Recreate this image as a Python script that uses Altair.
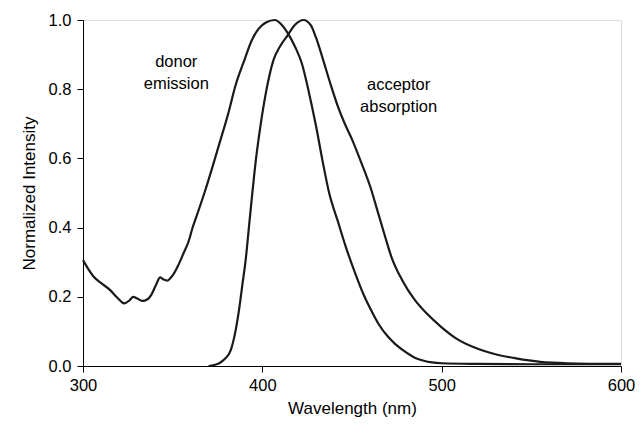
import altair as alt
import pandas as pd

# donor emission spectrum (wavelength nm, normalized intensity)
donor_nm = [300, 303, 306, 310, 315, 319, 323, 326, 328, 330, 333, 336, 338, 341, 343, 345, 347,
            350, 353, 356, 359, 361, 364, 368, 372, 376, 381, 385, 390, 394, 398, 402, 407, 411,
            415, 418.5, 422, 426, 430, 433.5, 437.3, 442, 446.5, 452, 457, 461, 465, 470, 474,
            480, 485, 490, 500, 520, 550, 600]
donor_val = [0.306, 0.28, 0.258, 0.24, 0.22, 0.198, 0.181, 0.19, 0.200, 0.196, 0.188, 0.193, 0.205,
             0.238, 0.256, 0.25, 0.247, 0.262, 0.29, 0.325, 0.362, 0.398, 0.443, 0.505, 0.572, 0.642,
             0.73, 0.81, 0.884, 0.94, 0.975, 0.993, 1.0, 0.985, 0.955, 0.92, 0.875, 0.79, 0.692,
             0.595, 0.499, 0.42, 0.345, 0.265, 0.2, 0.158, 0.12, 0.085, 0.064, 0.04, 0.024,
             0.015, 0.008, 0.006, 0.005, 0.005]

# acceptor absorption spectrum
acc_nm = [370, 373, 376, 379, 382.4, 385, 387, 389, 390.7, 392.5, 394.4, 396.5, 398.9, 402,
          406.2, 410, 414, 418, 423, 427, 430, 433.6, 438, 442, 446, 450, 455, 461, 463, 468.4,
          472, 478, 485, 492, 499.5, 508, 518, 530, 541.5, 555, 570, 600]
acc_val = [0.0, 0.003, 0.008, 0.02, 0.046, 0.10, 0.162, 0.24, 0.306, 0.40, 0.499, 0.60, 0.692,
           0.79, 0.884, 0.925, 0.955, 0.985, 1.0, 0.985, 0.948, 0.89, 0.815, 0.752, 0.70, 0.655,
           0.59, 0.505, 0.47, 0.375, 0.315, 0.248, 0.191, 0.15, 0.114, 0.08, 0.054, 0.034,
           0.022, 0.012, 0.008, 0.006]

label_text = ["donor", "emission", "acceptor", "absorption"]
label_nm = [352, 352, 476, 476]
label_val = [0.879, 0.815, 0.812, 0.749]

x_ticks = [300, 400, 500, 600]
y_ticks = [0.0, 0.1, 0.2, 0.3, 0.4, 0.5, 0.6, 0.7, 0.8, 0.9, 1.0]

FONT = "Liberation Sans"

lines_df = pd.concat([
    pd.DataFrame({"nm": donor_nm, "val": donor_val, "series": "donor emission"}),
    pd.DataFrame({"nm": acc_nm, "val": acc_val, "series": "acceptor absorption"}),
])
labels_df = pd.DataFrame({"text": label_text, "nm": label_nm, "val": label_val})

x_enc = alt.X("nm:Q", scale=alt.Scale(domain=[300, 600], nice=False, zero=False),
              axis=alt.Axis(title="Wavelength (nm)", values=x_ticks, grid=False,
                            labelFlush=False, labelOverlap=False,
                            domainColor="black", tickColor="black", tickSize=6, tickWidth=1,
                            labelFont=FONT, labelFontSize=16.5, labelColor="black",
                            labelPadding=5, titleFont=FONT, titleFontSize=17,
                            titleFontWeight="normal", titleColor="black", titlePadding=7))
y_enc = alt.Y("val:Q", scale=alt.Scale(domain=[0, 1], nice=False),
              axis=alt.Axis(title="Normalized Intensity", values=y_ticks, grid=False,
                            labelExpr="round(datum.value*10) % 2 == 0 ? format(datum.value, '.1f') : ''",
                            labelFlush=False, labelOverlap=False,
                            domainColor="black", tickColor="black", tickSize=6, tickWidth=1,
                            labelFont=FONT, labelFontSize=16.5, labelColor="black",
                            labelPadding=6, titleFont=FONT, titleFontSize=17,
                            titleFontWeight="normal", titleColor="black", titlePadding=10))

lines = alt.Chart(lines_df).mark_line(color="#1a1a1a", strokeWidth=2.2,
                                      interpolate="monotone").encode(
    x=x_enc, y=y_enc, detail="series:N", order="nm:Q")

texts = alt.Chart(labels_df).mark_text(font=FONT, fontSize=16.5, color="black", align="center",
                                       baseline="middle").encode(
    x="nm:Q", y="val:Q", text="text:N")

chart = alt.layer(lines, texts).properties(
    width=538, height=346,
    autosize=alt.AutoSizeParams(type="none"),
    padding={"left": 75, "top": 12, "right": 15, "bottom": 54},
).configure_view(stroke=None).configure(background="white")

chart.save("out.html", embed_options={"renderer": "svg", "actions": False})
